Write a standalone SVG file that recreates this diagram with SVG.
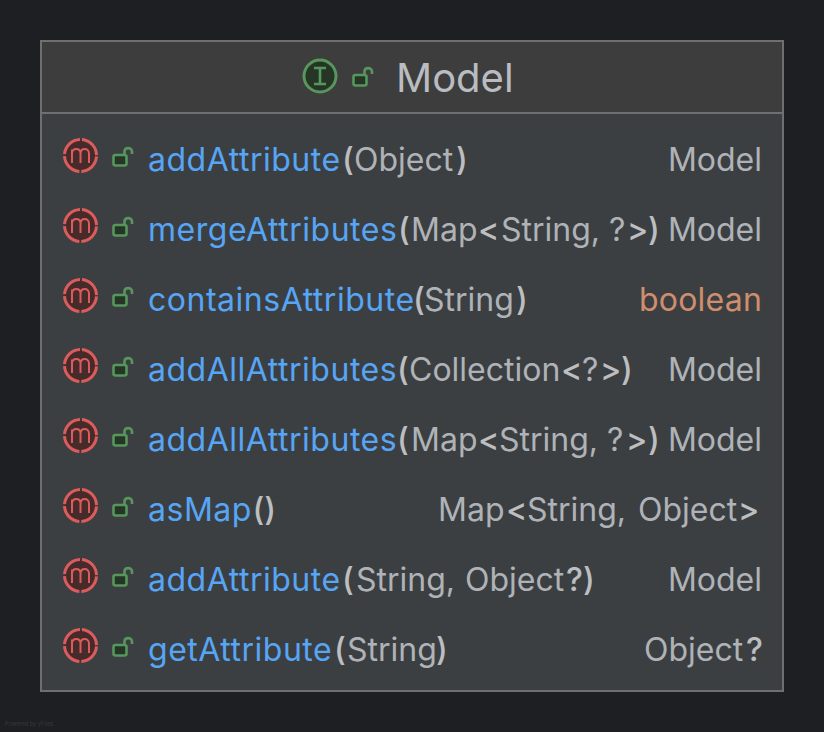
<svg xmlns="http://www.w3.org/2000/svg" width="824" height="732" viewBox="0 0 824 732">
<style>
text{font-family:Inter,"Liberation Sans",sans-serif;font-size:32px;fill:#afb3b8}
.n{fill:#57a5f5;letter-spacing:.52px}
.b{fill:#bcbec0;font-weight:500}
.o{fill:#cf8e6d;letter-spacing:.2px}
.r{text-anchor:end}
.t{font-size:40px;fill:#b9bcc0}
.pw{font-size:5.600px;fill:#36383b}
</style>
<defs>
<g id="m">
<circle cx="0" cy="0" r="16" fill="#472b2b" stroke="#db5c5c" stroke-width="3" stroke-dasharray="23.130 2" stroke-dashoffset="-1"/>
<path d="M-8.500 7.500V-6M-8.500-2C-8.500-5-6.500-6.500-4.200-6.500S0-5 0-2V7.500M0-2C0-5 2-6.500 4.200-6.500S8.500-5 8.500-2V7.500" fill="none" stroke="#db5c5c" stroke-width="2"/>
</g>
<g id="l">
<rect x="-8" y="-2" width="13" height="10.500" rx="2" fill="#253627" stroke="#57965c" stroke-width="2.600"/>
<path d="M3-2V-5.500C3-10 10.500-10 10.500-5.500V-3" fill="none" stroke="#57965c" stroke-width="2.600"/>
</g>
</defs>
<rect width="824" height="732" fill="#1e1f22"/>
<g id="model-node">
<rect x="41" y="41" width="742" height="650" fill="#3c3f41" stroke="#6f6f6f" stroke-width="2"/>
<rect x="42" y="42" width="740" height="70" fill="#3d3d3d"/>
<path d="M41 113H783" stroke="#6f6f6f" stroke-width="2"/>
<circle cx="320" cy="76" r="16" fill="#253627" stroke="#57965c" stroke-width="3"/>
<path d="M314 68H326M320 68V84M314 84H326" fill="none" stroke="#57965c" stroke-width="2.600"/>
<use href="#l" x="361.500" y="77"/>
<text class="t" x="396" y="92">Model</text>
</g>
<g id="member-1">
<use href="#m" x="80.500" y="155.500"/><use href="#l" x="121.500" y="157"/>
<text x="148" y="170.500"><tspan class="n">addAttribute</tspan><tspan class="b" x="342">(</tspan><tspan x="354">Object</tspan><tspan class="b" x="456">)</tspan></text>
<text class="r" x="762" y="170.500">Model</text>
</g>
<g id="member-2">
<use href="#m" x="80.500" y="225.500"/><use href="#l" x="121.500" y="227"/>
<text x="148" y="240.500"><tspan class="n">mergeAttributes</tspan><tspan class="b" x="398">(</tspan><tspan x="411">Map</tspan><tspan class="b" x="478">&lt;</tspan><tspan x="501">String,</tspan><tspan x="600"> ?</tspan><tspan class="b" x="627">&gt;</tspan><tspan class="b" x="648">)</tspan></text>
<text class="r" x="762" y="240.500">Model</text>
</g>
<g id="member-3">
<use href="#m" x="80.500" y="295.500"/><use href="#l" x="121.500" y="297"/>
<text x="148" y="310.500"><tspan class="n">containsAttribute</tspan><tspan class="b" x="413">(</tspan><tspan x="424">String</tspan><tspan class="b" x="516">)</tspan></text>
<text class="r o" x="762" y="310.500">boolean</text>
</g>
<g id="member-4">
<use href="#m" x="80.500" y="365.500"/><use href="#l" x="121.500" y="367"/>
<text x="148" y="380.500"><tspan class="n">addAllAttributes</tspan><tspan class="b" x="397">(</tspan><tspan x="409">Collection</tspan><tspan class="b" x="561">&lt;</tspan><tspan x="582">?</tspan><tspan class="b" x="600">&gt;</tspan><tspan class="b" x="621">)</tspan></text>
<text class="r" x="762" y="380.500">Model</text>
</g>
<g id="member-5">
<use href="#m" x="80.500" y="435.500"/><use href="#l" x="121.500" y="437"/>
<text x="148" y="450.500"><tspan class="n">addAllAttributes</tspan><tspan class="b" x="397">(</tspan><tspan x="411">Map</tspan><tspan class="b" x="478">&lt;</tspan><tspan x="499">String,</tspan><tspan x="598"> ?</tspan><tspan class="b" x="626">&gt;</tspan><tspan class="b" x="648">)</tspan></text>
<text class="r" x="762" y="450.500">Model</text>
</g>
<g id="member-6">
<use href="#m" x="80.500" y="505.500"/><use href="#l" x="121.500" y="507"/>
<text x="148" y="520.500"><tspan class="n">asMap</tspan><tspan class="b" x="252.500">()</tspan></text>
<text x="438" y="520.500">Map<tspan class="b" x="506">&lt;</tspan><tspan x="527">String,</tspan><tspan x="638">Object</tspan><tspan class="b" x="738">&gt;</tspan></text>
</g>
<g id="member-7">
<use href="#m" x="80.500" y="575.500"/><use href="#l" x="121.500" y="577"/>
<text x="148" y="590.500"><tspan class="n">addAttribute</tspan><tspan class="b" x="342">(</tspan><tspan x="356">String,</tspan><tspan x="465">Object</tspan><tspan class="b" x="566">?</tspan><tspan class="b" x="583">)</tspan></text>
<text class="r" x="762" y="590.500">Model</text>
</g>
<g id="member-8">
<use href="#m" x="80.500" y="645.500"/><use href="#l" x="121.500" y="647"/>
<text x="148" y="660.500"><tspan class="n">getAttribute</tspan><tspan class="b" x="334">(</tspan><tspan x="347">String</tspan><tspan class="b" x="436">)</tspan></text>
<text x="644" y="660.500">Object<tspan class="b" x="746">?</tspan></text>
</g>
<text class="pw" x="5" y="726">Powered by yFiles</text>
<g id="connectors"/>
</svg>
